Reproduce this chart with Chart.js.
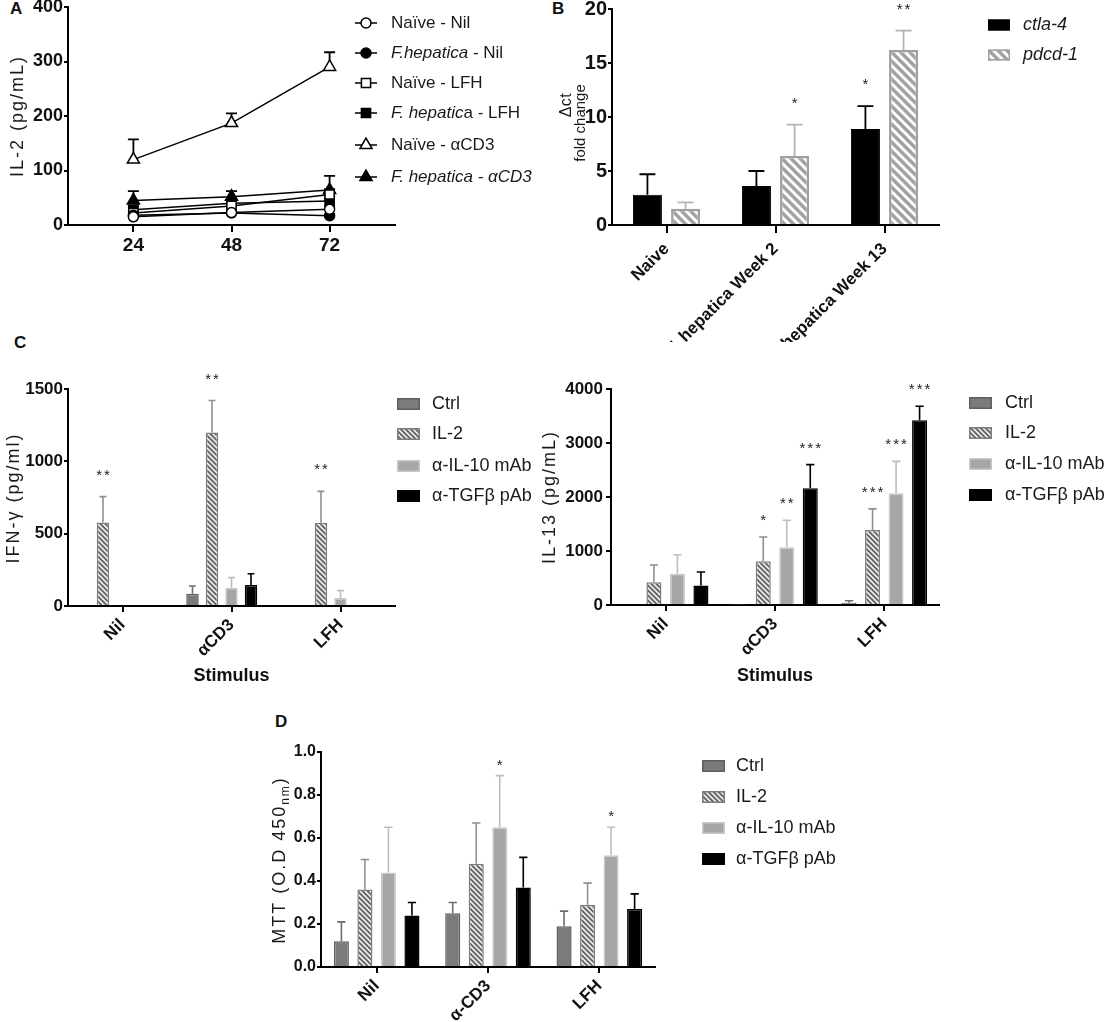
<!DOCTYPE html>
<html><head><meta charset="utf-8">
<script src="https://cdn.jsdelivr.net/npm/chart.js@4.4.1/dist/chart.umd.min.js"></script>
<style>
html,body{margin:0;padding:0;background:#fff;}
body{width:1106px;height:1022px;position:relative;overflow:hidden;font-family:'Liberation Sans',Arial,Helvetica,sans-serif;}
canvas{position:absolute;}
.plab{position:absolute;font-weight:bold;font-size:17px;line-height:17px;color:#111;}
</style></head><body>
<div class="plab" style="left:10px;top:0px">A</div>
<div class="plab" style="left:552px;top:0px">B</div>
<div class="plab" style="left:14px;top:334px">C</div>
<div class="plab" style="left:275px;top:713px">D</div>
<script>
// ---------------- DATA ----------------
// Panel A: IL-2 time course (hours)
const hoursA = [24, 48, 72];
const seriesLabelsA = ['Naïve - Nil', '_F.hepatica_ - Nil', 'Naïve - LFH', '_F. hepatic_a - LFH', 'Naïve - αCD3', '_F. hepatica - αCD3_'];
const naiveNil = [15, 23, 29];      const naiveNilErr = [3, 4, 5];
const fhNil = [18, 22, 17];         const fhNilErr = [4, 3, 3];
const naiveLFH = [22, 35, 56];      const naiveLFHErr = [5, 6, 10];
const fhLFH = [28, 40, 44];         const fhLFHErr = [6, 8, 10];
const naiveCD3 = [120, 187, 290];   const naiveCD3Err = [37, 18, 27];
const fhCD3 = [45, 52, 64];         const fhCD3Err = [17, 10, 26];
const ticksA_y = [0, 100, 200, 300, 400];

// Panel B: fold change
const groupsB = ['Naive', 'F. hepatica Week 2', 'F. hepatica Week 13'];
const genesB = ['_ctla-4_', '_pdcd-1_'];
const ctla4 = [2.8, 3.6, 8.9];   const ctla4Err = [1.9, 1.4, 2.1];  const ctla4Sig = ['', '', '*'];
const pdcd1 = [1.5, 6.4, 16.2];  const pdcd1Err = [0.6, 2.9, 1.8];  const pdcd1Sig = ['', '*', '**'];

// Shared treatments (C, D)
const treatments = ['Ctrl', 'IL-2', 'α-IL-10 mAb', 'α-TGFβ pAb'];
const stimuliC = ['Nil', 'αCD3', 'LFH'];
const stimuliD = ['Nil', 'α-CD3', 'LFH'];

// Panel C left: IFN-gamma (pg/ml)
const ifnCtrl = [0, 85, 0];      const ifnCtrlErr = [0, 53, 0];
const ifnIL2 = [578, 1200, 575]; const ifnIL2Err = [178, 220, 217];
const ifnIL10 = [0, 127, 55];    const ifnIL10Err = [0, 69, 51];
const ifnTGF = [5, 145, 0];      const ifnTGFErr = [0, 78, 0];
const ifnSig = [['', '', ''], ['**', '**', '**'], ['', '', ''], ['', '', '']];
const ifnEmpty = [null, null, null]; // empty fifth column slot in the original layout

// Panel C right: IL-13 (pg/mL)
const il13Ctrl = [0, 10, 40];        const il13CtrlErr = [0, 0, 40];
const il13IL2 = [420, 810, 1390];    const il13IL2Err = [320, 450, 390];
const il13IL10 = [580, 1070, 2070];  const il13IL10Err = [350, 500, 590];
const il13TGF = [360, 2160, 3420];   const il13TGFErr = [250, 440, 260];
const il13Sig = [['', '', ''], ['', '*', '***'], ['', '**', '***'], ['', '***', '***']];

// Panel D: MTT (O.D 450nm)
const mttCtrl = [0.12, 0.25, 0.19];  const mttCtrlErr = [0.09, 0.05, 0.07];
const mttIL2 = [0.36, 0.48, 0.29];   const mttIL2Err = [0.14, 0.19, 0.10];
const mttIL10 = [0.44, 0.65, 0.52];  const mttIL10Err = [0.21, 0.24, 0.13];
const mttTGF = [0.24, 0.37, 0.27];   const mttTGFErr = [0.06, 0.14, 0.07];
const mttSig = [['', '', ''], ['', '', ''], ['', '*', '*'], ['', '', '']];

// ---------------- HELPERS ----------------
const FONT = "'Liberation Sans', Arial, Helvetica, sans-serif";
Chart.defaults.font.family = FONT;
Chart.defaults.color = '#111';

// diagonal "\" stripes drawn as parallelograms so the tile repeats cleanly
function hatch(bg, fg, size, w) {
  const c = document.createElement('canvas'); c.width = size; c.height = size;
  const g = c.getContext('2d');
  g.fillStyle = bg; g.fillRect(0, 0, size, size);
  g.fillStyle = fg;
  for (const k of [-size, 0, size]) {
    g.beginPath();
    g.moveTo(k, 0); g.lineTo(k + w, 0); g.lineTo(k + w + size, size); g.lineTo(k + size, size);
    g.closePath(); g.fill();
  }
  return g.createPattern(c, 'repeat');
}
const HATCH_C = hatch('#ffffff', '#6a6a6a', 5, 3);
const HATCH_B = hatch('#a2a2a2', '#ffffff', 9, 4);

function drawRich(ctx, str, x, y, size, weight) {
  const parts = str.split('_');
  let cx = x;
  parts.forEach((p, i) => {
    if (!p) return;
    ctx.font = (i % 2 ? 'italic ' : '') + (weight || 'normal') + ' ' + size + 'px ' + FONT;
    ctx.fillText(p, cx, y);
    cx += ctx.measureText(p).width;
  });
}
function drawMarker(ctx, style, x, y, r, fill) {
  ctx.beginPath();
  if (style === 'circle') ctx.arc(x, y, r, 0, Math.PI * 2);
  else if (style === 'rect') { const s = Math.SQRT1_2 * r; ctx.rect(x - s, y - s, 2 * s, 2 * s); }
  else if (style === 'triangle') {
    let a = 0;
    ctx.moveTo(x + Math.sin(a) * r, y - Math.cos(a) * r); a += 2 * Math.PI / 3;
    ctx.lineTo(x + Math.sin(a) * r, y - Math.cos(a) * r); a += 2 * Math.PI / 3;
    ctx.lineTo(x + Math.sin(a) * r, y - Math.cos(a) * r); ctx.closePath();
  }
  ctx.fillStyle = fill; ctx.fill();
  ctx.strokeStyle = '#000'; ctx.lineWidth = 1.5; ctx.stroke();
}

function drawErrors(chart, o) {
  const ctx = chart.ctx, ys = chart.scales.y;
  chart.data.datasets.forEach((ds, di) => {
    if (!ds.errors) return;
    const meta = chart.getDatasetMeta(di);
    meta.data.forEach((el, i) => {
      const raw = ds.data[i];
      const v = (raw !== null && typeof raw === 'object') ? raw.y : raw;
      if (v === null || v === undefined) return;
      const e = ds.errors[i] || 0;
      const x = el.x;
      const y0 = ys.getPixelForValue(v), y1 = ys.getPixelForValue(v + e);
      if (e > 0) {
        const cap = o.capRatio ? el.width * o.capRatio : o.cap;
        ctx.save();
        ctx.strokeStyle = ds.errorColor; ctx.lineWidth = o.width;
        ctx.beginPath();
        ctx.moveTo(x, y0); ctx.lineTo(x, y1);
        ctx.moveTo(x - cap / 2, y1); ctx.lineTo(x + cap / 2, y1);
        ctx.stroke(); ctx.restore();
      }
      if (ds.sig && ds.sig[i]) {
        ctx.save();
        ctx.fillStyle = '#222'; ctx.textAlign = 'center'; ctx.textBaseline = 'alphabetic';
        ctx.font = o.sigSize + 'px ' + FONT;
        try { ctx.letterSpacing = '2px'; } catch (err) {}
        ctx.fillText(ds.sig[i], x + 1, y1 - o.sigGap);
        ctx.restore();
      }
    });
  });
}
const errPlugin = {
  id: 'errBars',
  beforeDatasetsDraw(chart, args, o) { if (o.before) drawErrors(chart, o); },
  afterDatasetsDraw(chart, args, o) { if (!o.before) drawErrors(chart, o); }
};

const legendPlugin = {
  id: 'panelLegend',
  afterDraw(chart, args, o) {
    if (!o.rows) return;
    const ctx = chart.ctx, L = o.L, T = o.T;
    ctx.save();
    let row = 0;
    chart.data.datasets.forEach((ds) => {
      if (ds.noLegend) return;
      const y = o.rows[row++] - T;
      if (o.mode === 'line') {
        ctx.strokeStyle = '#000'; ctx.lineWidth = 1.5;
        ctx.beginPath(); ctx.moveTo(o.x0 - L, y); ctx.lineTo(o.x1 - L, y); ctx.stroke();
        drawMarker(ctx, ds.pointStyle, (o.x0 + o.x1) / 2 - L, y, ds.pointRadius, ds.pointBackgroundColor);
      } else {
        ctx.fillStyle = ds.backgroundColor;
        ctx.fillRect(o.boxX - L, y - o.boxH / 2, o.boxW, o.boxH);
        ctx.strokeStyle = ds.borderColor; ctx.lineWidth = 1.5;
        ctx.strokeRect(o.boxX - L + 0.75, y - o.boxH / 2 + 0.75, o.boxW - 1.5, o.boxH - 1.5);
      }
      ctx.fillStyle = '#1a1a1a'; ctx.textBaseline = 'middle'; ctx.textAlign = 'left';
      drawRich(ctx, ds.label, o.textX - L, y, o.size, 'normal');
    });
    ctx.restore();
  }
};

const yTitlePlugin = {
  id: 'yTitle',
  afterDraw(chart, args, o) {
    if (!o.items) return;
    const ctx = chart.ctx;
    o.items.forEach(it => {
      ctx.save();
      ctx.translate(it.x - o.L, it.y - o.T);
      ctx.rotate(-Math.PI / 2);
      ctx.fillStyle = '#1a1a1a'; ctx.textBaseline = 'middle'; ctx.textAlign = 'left';
      try { ctx.letterSpacing = (it.spacing || 0) + 'px'; } catch (err) {}
      const parts = it.text.split('~').map((t, i) => ({t, sub: i % 2 === 1}));
      let total = 0;
      parts.forEach(p => {
        ctx.font = (p.sub ? Math.round(it.size * 0.68) : it.size) + 'px ' + FONT;
        p.w = ctx.measureText(p.t).width; total += p.w;
      });
      let cx = -total / 2;
      parts.forEach(p => {
        ctx.font = (p.sub ? Math.round(it.size * 0.68) : it.size) + 'px ' + FONT;
        ctx.fillText(p.t, cx, p.sub ? it.size * 0.3 : 0);
        cx += p.w;
      });
      ctx.restore();
    });
  }
};

function makeCanvas(L, T, W, H) {
  const c = document.createElement('canvas');
  c.width = W; c.height = H;
  Object.assign(c.style, {left: L + 'px', top: T + 'px', width: W + 'px', height: H + 'px'});
  document.body.appendChild(c);
  return c;
}
function frame(L, T, W, H, area) {
  return {
    canvas: makeCanvas(L, T, W, H),
    padding: {left: 0, top: area.t - T, right: L + W - area.r, bottom: 0},
    yW: area.l - L, xH: T + H - area.b, L, T
  };
}
function axisBase(tickLen) {
  return {
    grid: {display: true, drawOnChartArea: false, drawTicks: true, tickLength: tickLen, color: '#000', lineWidth: 2, offset: false},
    border: {display: true, color: '#000', width: 2}
  };
}
const baseOpts = {responsive: false, animation: false, events: [], devicePixelRatio: 1};

// ---------------- PANEL A ----------------
const styleA = [
  {pt: 'circle', r: 5, fill: '#fff'},
  {pt: 'circle', r: 5, fill: '#000'},
  {pt: 'rect', r: 6.5, fill: '#fff'},
  {pt: 'rect', r: 6.5, fill: '#000'},
  {pt: 'triangle', r: 7, fill: '#fff'},
  {pt: 'triangle', r: 7, fill: '#000'}
];
const valuesA = [naiveNil, fhNil, naiveLFH, fhLFH, naiveCD3, fhCD3];
const errorsA = [naiveNilErr, fhNilErr, naiveLFHErr, fhLFHErr, naiveCD3Err, fhCD3Err];
const fA = frame(0, -8, 560, 268, {l: 68, t: 7, r: 395, b: 225});
new Chart(fA.canvas, {
  type: 'line',
  data: {
    datasets: valuesA.map((vals, si) => ({
      label: seriesLabelsA[si],
      data: hoursA.map((h, i) => ({x: h, y: vals[i]})),
      errors: errorsA[si], errorColor: '#000',
      borderColor: '#000', borderWidth: 1.5, tension: 0,
      pointStyle: styleA[si].pt, pointRadius: styleA[si].r,
      pointBackgroundColor: styleA[si].fill, pointBorderColor: '#000', pointBorderWidth: 1.5
    }))
  },
  options: Object.assign({}, baseOpts, {
    layout: {padding: fA.padding},
    plugins: {
      legend: {display: false}, tooltip: {enabled: false},
      errBars: {before: true, cap: 11, width: 1.8},
      panelLegend: {mode: 'line', L: fA.L, T: fA.T, rows: [23, 53, 83, 113, 145, 177], x0: 355, x1: 377, textX: 391, size: 17},
      yTitle: {L: fA.L, T: fA.T, items: [{text: 'IL-2 (pg/mL)', x: 18, y: 116, size: 18, spacing: 2}]}
    },
    scales: {
      x: Object.assign(axisBase(7), {
        type: 'linear', min: 8, max: 88,
        ticks: {font: {size: 19, weight: 'bold'}, color: '#111', padding: 2},
        afterBuildTicks: s => { s.ticks = hoursA.map(v => ({value: v})); },
        afterFit: s => { s.height = fA.xH; }
      }),
      y: Object.assign(axisBase(4), {
        min: 0, max: 400,
        ticks: {font: {size: 18, weight: 'bold'}, color: '#111', padding: 1},
        afterBuildTicks: s => { s.ticks = ticksA_y.map(v => ({value: v})); },
        afterFit: s => { s.width = fA.yW; }
      })
    }
  }),
  plugins: [errPlugin, legendPlugin, yTitlePlugin]
});

// ---------------- PANEL B ----------------
const fB = frame(540, -5, 566, 347, {l: 612, t: 9, r: 939, b: 225});
new Chart(fB.canvas, {
  type: 'bar',
  data: {
    labels: groupsB,
    datasets: [
      {label: genesB[0], data: ctla4, errors: ctla4Err, sig: ctla4Sig, errorColor: '#000',
       backgroundColor: '#000', borderColor: '#000', borderWidth: 1},
      {label: genesB[1], data: pdcd1, errors: pdcd1Err, sig: pdcd1Sig, errorColor: '#b3b3b3',
       backgroundColor: HATCH_B, borderColor: '#a0a0a0', borderWidth: 2.5}
    ]
  },
  options: Object.assign({}, baseOpts, {
    layout: {padding: fB.padding},
    datasets: {bar: {categoryPercentage: 0.70, barPercentage: 0.76, borderSkipped: 'bottom'}},
    plugins: {
      legend: {display: false}, tooltip: {enabled: false},
      errBars: {capRatio: 0.55, width: 1.8, sigGap: 17, sigSize: 15},
      panelLegend: {mode: 'box', L: fB.L, T: fB.T, rows: [25, 55], boxX: 988, boxW: 22, boxH: 11, textX: 1023, size: 18},
      yTitle: {L: fB.L, T: fB.T, items: [
        {text: 'Δct', x: 567, y: 105, size: 16, spacing: 0.5},
        {text: 'fold change', x: 581, y: 123, size: 15, spacing: 0}
      ]}
    },
    scales: {
      x: Object.assign(axisBase(8), {
        ticks: {font: {size: 17, weight: 'bold'}, color: '#111', padding: 6, minRotation: 45, maxRotation: 45, autoSkip: false},
        afterFit: s => { s.height = fB.xH; }
      }),
      y: Object.assign(axisBase(4), {
        min: 0, max: 20,
        ticks: {stepSize: 5, font: {size: 20, weight: 'bold'}, color: '#111', padding: 1},
        afterFit: s => { s.width = fB.yW; }
      })
    }
  }),
  plugins: [errPlugin, legendPlugin, yTitlePlugin]
});

// ---------------- Treatment bar panels ----------------
const treatStyles = [
  {bg: '#7b7b7b', border: '#5f5f5f', err: '#6e6e6e'},
  {bg: HATCH_C, border: '#7d7d7d', err: '#909090'},
  {bg: '#a6a6a6', border: '#c9c9c9', err: '#bdbdbd'},
  {bg: '#000000', border: '#000000', err: '#000000'}
];
function treatDatasets(vals, errs, sigs, extra) {
  const ds = vals.map((v, i) => ({
    label: treatments[i], data: v, errors: errs[i], sig: sigs[i], errorColor: treatStyles[i].err,
    backgroundColor: treatStyles[i].bg, borderColor: treatStyles[i].border, borderWidth: 1.5
  }));
  if (extra) ds.push({label: '', data: extra, noLegend: true, backgroundColor: 'rgba(0,0,0,0)', borderWidth: 0});
  return ds;
}
function treatChart(f, cfg) {
  return new Chart(f.canvas, {
    type: 'bar',
    data: {labels: cfg.labels, datasets: treatDatasets(cfg.vals, cfg.errs, cfg.sigs, cfg.extra)},
    options: Object.assign({}, baseOpts, {
      layout: {padding: f.padding},
      datasets: {bar: {categoryPercentage: cfg.cp, barPercentage: 0.64, borderSkipped: 'bottom'}},
      plugins: {
        legend: {display: false}, tooltip: {enabled: false},
        errBars: {capRatio: 0.55, width: 1.6, sigGap: cfg.sigGap, sigSize: cfg.sigSize},
        panelLegend: {mode: 'box', L: f.L, T: f.T, rows: cfg.rows, boxX: cfg.boxX, boxW: 23, boxH: 12, textX: cfg.textX, size: 18},
        yTitle: {L: f.L, T: f.T, items: [cfg.ytitle]}
      },
      scales: {
        x: Object.assign(axisBase(6), {
          ticks: {font: {size: 17, weight: 'bold'}, color: '#111', padding: 3, minRotation: 45, maxRotation: 45, autoSkip: false},
          title: cfg.xtitle ? {display: true, text: cfg.xtitle, font: {size: 18, weight: 'bold'}, color: '#111', padding: {top: 4, bottom: 4}} : {display: false},
          afterFit: s => { s.height = f.xH; }
        }),
        y: Object.assign(axisBase(cfg.ytl), {
          min: 0, max: cfg.max,
          ticks: {stepSize: cfg.step, font: {size: cfg.ytSize, weight: 'bold'}, color: '#111', padding: cfg.ytp,
                  callback: cfg.fmt || (v => v)},
          afterFit: s => { s.width = f.yW; }
        })
      }
    }),
    plugins: [errPlugin, legendPlugin, yTitlePlugin]
  });
}

// C left
treatChart(frame(0, 330, 560, 361, {l: 68, t: 389, r: 395, b: 606}), {
  labels: stimuliC,
  vals: [ifnCtrl, ifnIL2, ifnIL10, ifnTGF], errs: [ifnCtrlErr, ifnIL2Err, ifnIL10Err, ifnTGFErr], sigs: ifnSig,
  extra: ifnEmpty,
  cp: 0.895, sigGap: 17, sigSize: 15, rows: [404, 434, 466, 496], boxX: 397, textX: 432,
  ytitle: {text: 'IFN-γ (pg/ml)', x: 14, y: 498, size: 18, spacing: 2},
  xtitle: 'Stimulus', max: 1500, step: 500, ytSize: 17, ytl: 4, ytp: 1
});
// C right
treatChart(frame(536, 330, 570, 361, {l: 611, t: 389, r: 939, b: 605}), {
  labels: stimuliC,
  vals: [il13Ctrl, il13IL2, il13IL10, il13TGF], errs: [il13CtrlErr, il13IL2Err, il13IL10Err, il13TGFErr], sigs: il13Sig,
  cp: 0.86, sigGap: 12, sigSize: 15, rows: [403, 433, 464, 495], boxX: 969, textX: 1005,
  ytitle: {text: 'IL-13 (pg/mL)', x: 550, y: 497, size: 18, spacing: 2},
  xtitle: 'Stimulus', max: 4000, step: 1000, ytSize: 17, ytl: 5, ytp: 3
});
// D
treatChart(frame(250, 700, 856, 322, {l: 321, t: 752, r: 655, b: 967}), {
  labels: stimuliD,
  vals: [mttCtrl, mttIL2, mttIL10, mttTGF], errs: [mttCtrlErr, mttIL2Err, mttIL10Err, mttTGFErr], sigs: mttSig,
  cp: 0.845, sigGap: 6, sigSize: 15, rows: [766, 797, 828, 859], boxX: 702, textX: 736,
  ytitle: {text: 'MTT (O.D 450~nm~)', x: 280, y: 860, size: 18, spacing: 2},
  xtitle: null, max: 1.0, step: 0.2, ytSize: 16, ytl: 4, ytp: 1,
  fmt: v => Number(v).toFixed(1)
});
</script>
</body></html>
